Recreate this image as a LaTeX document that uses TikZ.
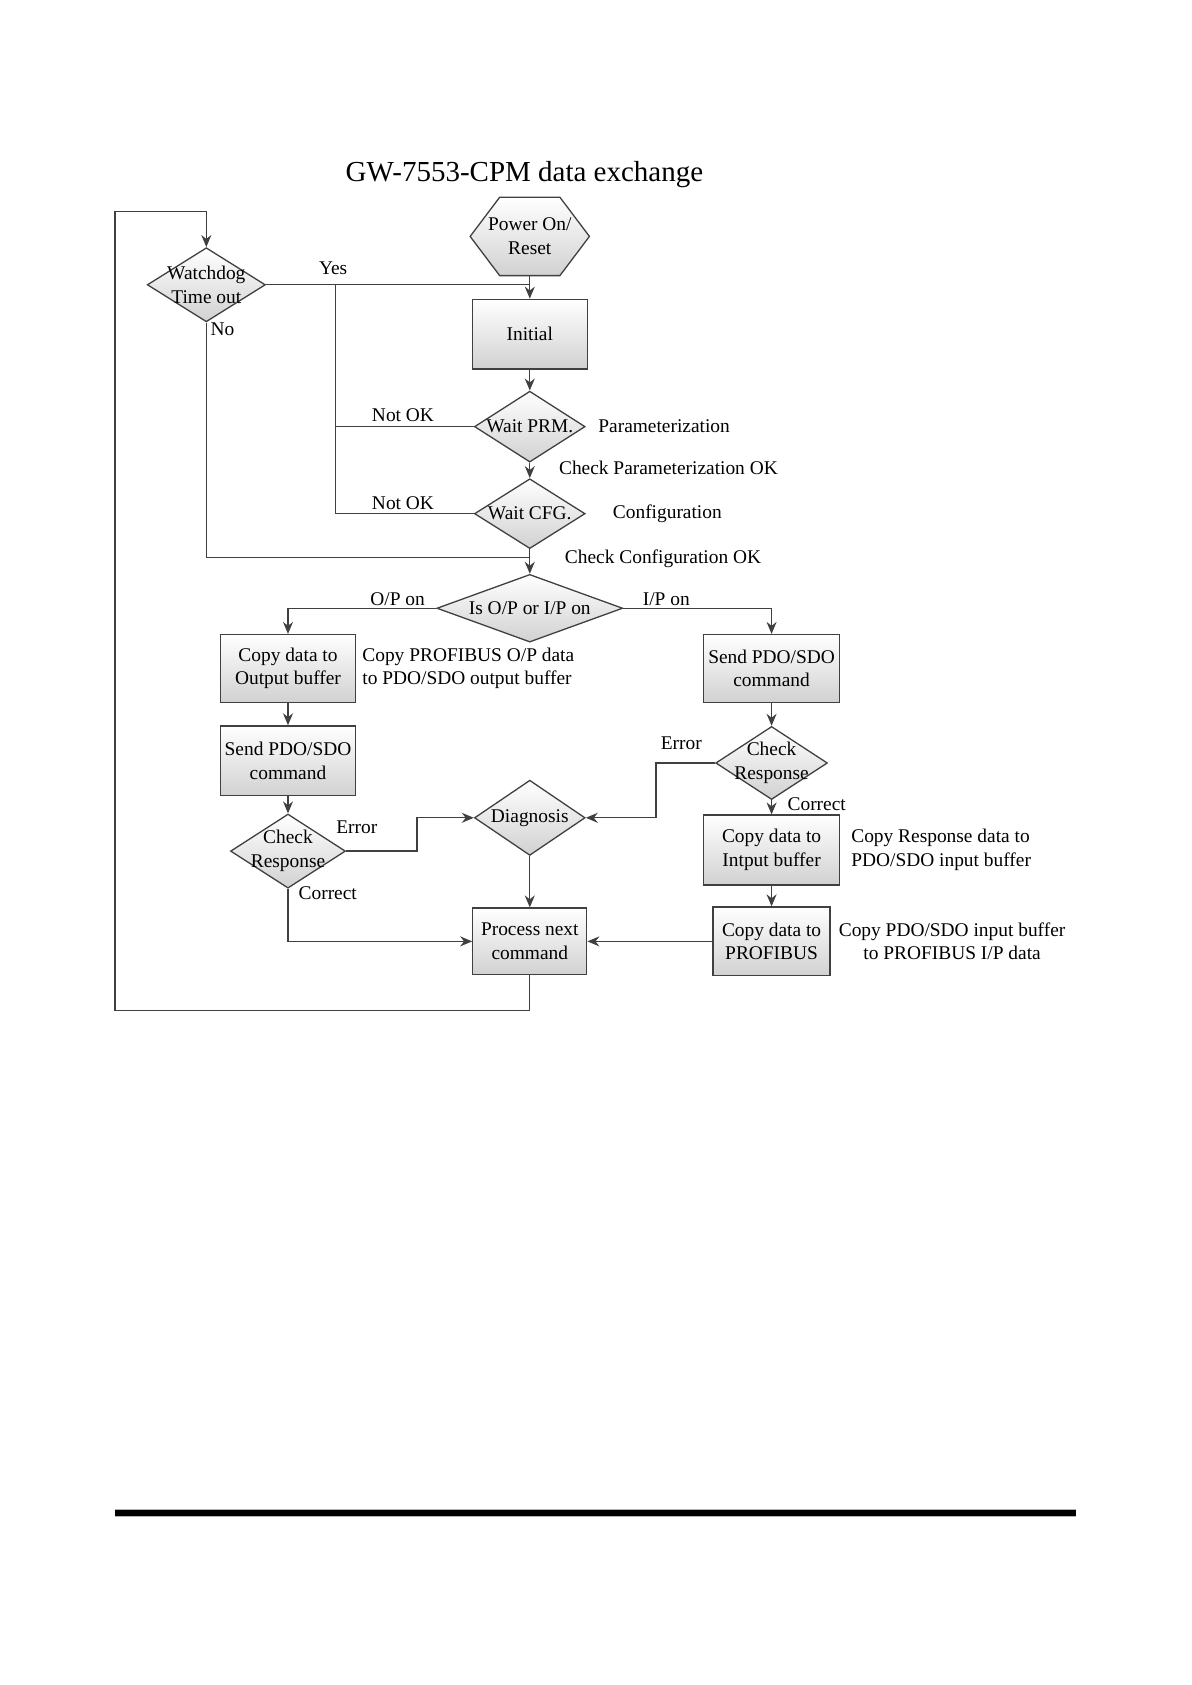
\documentclass[tikz,border=0pt]{standalone}
\usepackage{fontspec}
\setmainfont{Liberation Serif}
\usetikzlibrary{shapes.geometric,shapes.symbols,arrows.meta}

\newcommand\bodyfont{\fontsize{9.7}{11.8}\selectfont}
\newcommand\titlefont{\fontsize{14.5}{17}\selectfont}
\newcommand\pu{0.5373pt}

\tikzset{
  shaded/.style={draw=black!75, line width=0.65pt, top color=white, bottom color=black!18},
  procbox/.style={shaded, rectangle, align=center, inner sep=1pt},
  decide/.style={shaded, diamond, inner sep=0pt},
  txt/.style={font=\bodyfont, align=center, inner sep=1pt},
  line/.style={draw=black!75, line width=0.65pt},
  arr/.style={line, -{Stealth[length=6pt,width=5pt]}},
}

\begin{document}
\begin{tikzpicture}[x=\pu, y=-\pu, every node/.style={font=\bodyfont}]
\useasboundingbox (0,0) rectangle (1108.4,1568);

\node[font=\titlefont] (title) at (488,162) {GW-7553-CPM data exchange};

% main column
\node[shaded, signal, signal to=west and east, signal pointer angle=106, inner sep=0pt,
      minimum width=111*\pu, minimum height=73*\pu,
      label={[txt]center:Power On/\\Reset}] (pwr) at (493,220) {};
\node[procbox, minimum width=107*\pu, minimum height=65*\pu] (init) at (493,311) {Initial};
\node[decide, minimum width=103*\pu, minimum height=66*\pu,
      label={[txt]center:Wait PRM.}] (prm) at (493,397) {};
\node[decide, minimum width=103*\pu, minimum height=65*\pu,
      label={[txt]center:Wait CFG.}] (cfg) at (493,478) {};
\node[decide, minimum width=173*\pu, minimum height=63*\pu,
      label={[txt]center:Is O/P or I/P on}] (isop) at (493,566) {};
\node[decide, minimum width=103*\pu, minimum height=70*\pu,
      label={[txt]center:Diagnosis}] (diag) at (493,761) {};
\node[procbox, minimum width=106*\pu, minimum height=62*\pu] (proc) at (493,876) {Process next\\command};

% watchdog
\node[decide, minimum width=110*\pu, minimum height=69*\pu,
      label={[txt]center:Watchdog\\Time out}] (wd) at (192,265) {};

% O/P branch
\node[procbox, minimum width=126*\pu, minimum height=63*\pu] (cpout) at (268,622) {Copy data to\\Output buffer};
\node[procbox, minimum width=126*\pu, minimum height=65*\pu] (sendl) at (268,708) {Send PDO/SDO\\command};
\node[decide, minimum width=107*\pu, minimum height=69*\pu,
      label={[txt]center:Check\\Response}] (chkl) at (268,792) {};

% I/P branch
\node[procbox, minimum width=127*\pu, minimum height=63*\pu] (sendr) at (718,622) {Send PDO/SDO\\command};
\node[decide, minimum width=104*\pu, minimum height=68*\pu,
      label={[txt]center:Check\\Response}] (chkr) at (718,710) {};
\node[procbox, minimum width=127*\pu, minimum height=65*\pu] (cpin) at (718,791) {Copy data to\\Intput buffer};
\node[procbox, minimum width=109*\pu, minimum height=64*\pu] (cppb) at (718,876) {Copy data to\\PROFIBUS};

% side texts
\node[txt] (yes) at (310,250) {Yes};
\node[txt] (no) at (207,306) {No};
\node[txt] (nok1) at (375,386) {Not OK};
\node[txt] (nok2) at (375,468) {Not OK};
\node[txt] (param) at (618,397) {Parameterization};
\node[txt] (prmok) at (622,435) {Check Parameterization OK};
\node[txt] (config) at (621,478) {Configuration};
\node[txt] (cfgok) at (617,520) {Check Configuration OK};
\node[txt] (opon) at (370,558) {O/P on};
\node[txt] (ipon) at (620,558) {I/P on};
\node[txt, align=left, anchor=west] (cpoutnote) at (335,622) {Copy PROFIBUS O/P data\\to PDO/SDO output buffer};
\node[txt] (errl) at (332,770) {Error};
\node[txt] (okl) at (305,831) {Correct};
\node[txt] (errr) at (634,692) {Error};
\node[txt] (okr) at (760,748) {Correct};
\node[txt, align=left, anchor=west] (cpinnote) at (790,791) {Copy Response data to\\PDO/SDO input buffer};
\node[txt] (cppbnote) at (886,876) {Copy PDO/SDO input buffer\\to PROFIBUS I/P data};

% helper points
\coordinate (yesx) at (312,265);
\coordinate (nojoin) at (493,519);
\coordinate (loopbl) at (107,940);
\coordinate (looptl) at (107,197);

% connectors
\foreach \a/\b in {pwr/init, init/prm, prm/cfg, cfg/isop, cpout/sendl, sendl/chkl,
                   diag/proc, sendr/chkr, chkr/cpin, cpin/cppb, cppb/proc}
  \draw[arr] (\a) -- (\b);

\draw[line] (wd.east) -- (wd.east -| init.north);
\draw[line] (yesx) -- (cfg.west -| yesx);
\draw[line] (prm.west) -- (prm.west -| yesx);
\draw[line] (cfg.west) -- (cfg.west -| yesx);
\draw[line] (wd.south) |- (nojoin);
\draw[arr] (isop.west) -| (cpout.north);
\draw[arr] (isop.east) -| (sendr.north);
\draw[arr] (chkl.east) -- ++(66,0) |- (diag.west);
\draw[arr] (chkl.south) |- (proc.west);
\draw[arr] (chkr.west) -- ++(-55,0) |- (diag.east);
\draw[arr] (proc.south) |- (loopbl) -- (looptl) -| (wd.north);

% footer rule
\draw[black!30, line width=3.8pt] (107,1408) -- (1001,1408);
\draw[black, line width=2.8pt] (107,1408) -- (1001,1408);
\end{tikzpicture}
\end{document}
